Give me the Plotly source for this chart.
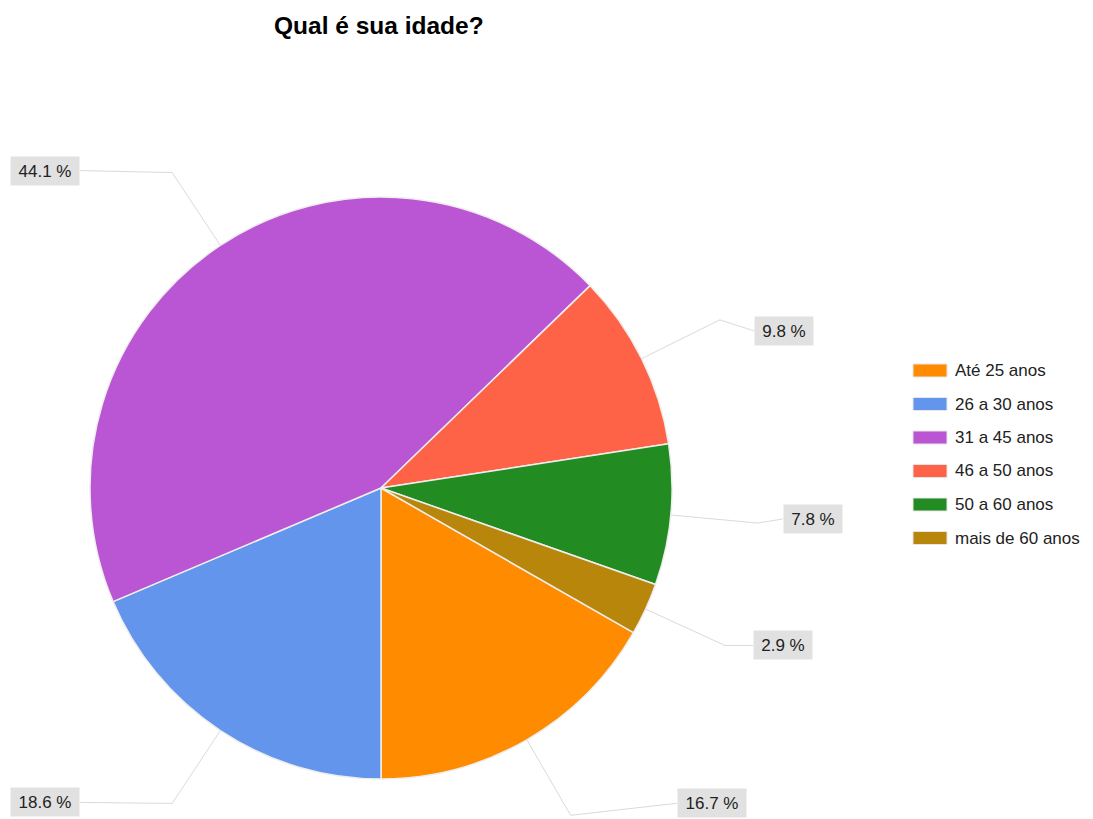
import math
import plotly.graph_objects as go

# ---- data ----
categories = ["Até 25 anos", "26 a 30 anos", "31 a 45 anos", "46 a 50 anos", "50 a 60 anos", "mais de 60 anos"]
percentages = [16.7, 18.6, 44.1, 9.8, 7.8, 2.9]
colors = ["#FF8C00", "#6495ED", "#BA55D3", "#FF6347", "#228B22", "#B8860B"]
title_text = "Qual é sua idade?"

# ---- layout / style constants (pixels) ----
W, H = 1093, 819
CX, CY, R = 381, 488, 291
ELBOW = 1.3
# label offset from the elbow point (dx, dy) in pixels
label_dx = [106, -92, -92, 34, 25, 28]
label_dy = [-12, -1, -2, 11, -4, 0]
FONT = "Arial, Liberation Sans, sans-serif"

def px(x):
    return x / W

def py(y):
    return 1 - y / H

total = sum(percentages)
rotation = 180 - 360 * percentages[0] / total

fig = go.Figure(go.Pie(
    labels=categories,
    values=percentages,
    sort=False,
    direction="clockwise",
    rotation=rotation,
    marker=dict(colors=colors, line=dict(color="#eeeeee", width=1.5)),
    textinfo="none",
    hoverinfo="label+percent",
    showlegend=False,
    domain=dict(x=[px(CX - R), px(CX + R)], y=[py(CY + R), py(CY - R)]),
))

shapes = []
annotations = []

cum = 0.0
for i, v in enumerate(percentages):
    mid = math.radians(rotation + 360 * (cum + v / 2) / total)
    cum += v
    sx, sy = CX + R * math.sin(mid), CY - R * math.cos(mid)
    ex, ey = CX + ELBOW * R * math.sin(mid), CY - ELBOW * R * math.cos(mid)
    lx, ly = ex + label_dx[i], ey + label_dy[i]
    shapes.append(dict(
        type="path", xref="paper", yref="paper",
        path=f"M {px(sx)} {py(sy)} L {px(ex)} {py(ey)} L {px(lx)} {py(ly)}",
        line=dict(color="#dadada", width=1),
    ))
    txt = f"{v} %"
    annotations.append(dict(
        x=px(lx), y=py(ly), xref="paper", yref="paper",
        xanchor="left" if label_dx[i] > 0 else "right", yanchor="middle",
        text=txt, showarrow=False, width=10 * len(txt), height=20,
        font=dict(family=FONT, size=17, color="#222222"),
        bgcolor="#e1e1e1", borderpad=4,
    ))

# custom legend
LX, LY0, LSTEP = 913, 370.5, 33.5
for i, (c, lab) in enumerate(zip(colors, categories)):
    yc = LY0 + i * LSTEP
    shapes.append(dict(
        type="rect", xref="paper", yref="paper",
        x0=px(LX), x1=px(LX + 34), y0=py(yc - 6.5), y1=py(yc + 6.5),
        fillcolor=c, line=dict(color="#e6e6e6", width=1),
    ))
    annotations.append(dict(
        x=px(LX + 40), y=py(yc), xref="paper", yref="paper",
        xanchor="left", yanchor="middle", text=lab, showarrow=False,
        font=dict(family=FONT, size=17, color="#222222"),
    ))

annotations.append(dict(
    x=px(CX - 2), y=py(25), xref="paper", yref="paper",
    xanchor="center", yanchor="middle", text=f"<b>{title_text}</b>", showarrow=False,
    font=dict(family=FONT, size=24.5, color="#000000"),
))

fig.update_layout(
    width=W, height=H,
    margin=dict(l=0, r=0, t=0, b=0),
    paper_bgcolor="white", plot_bgcolor="white",
    shapes=shapes, annotations=annotations,
)

fig.write_html(
    "out.html",
    config={"displayModeBar": False},
    post_script="document.body.style.margin='0';document.body.style.overflow='hidden';",
)
